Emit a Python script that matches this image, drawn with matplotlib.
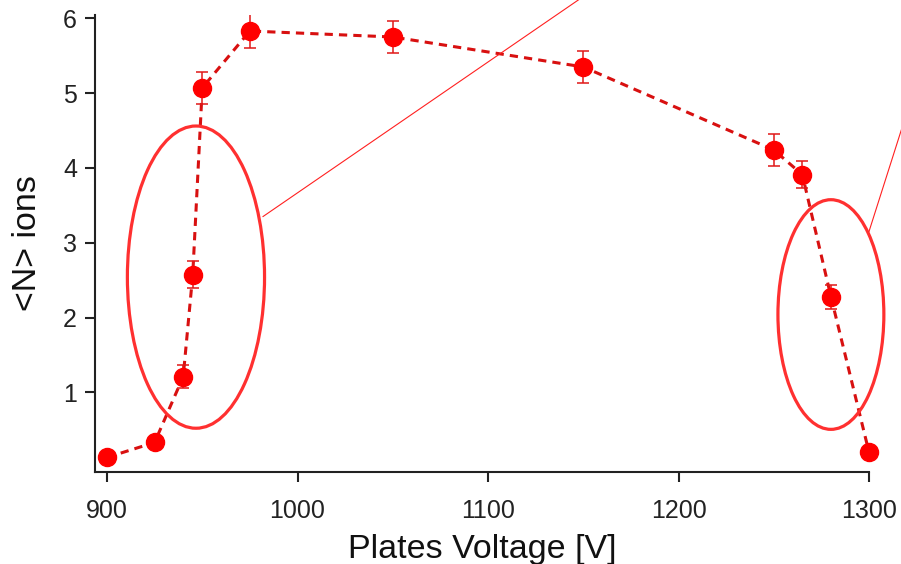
import matplotlib
matplotlib.use("Agg")
import matplotlib.pyplot as plt
from matplotlib.patches import Ellipse

plt.rcParams['font.family'] = ['Liberation Sans', 'DejaVu Sans']

# Data
voltage = [900, 925, 940, 945, 950, 975, 1050, 1150, 1250, 1265, 1280, 1300]
n_ions = [0.13, 0.33, 1.21, 2.57, 5.07, 5.83, 5.75, 5.35, 4.24, 3.91, 2.28, 0.20]
n_err = [0.05, 0.06, 0.15, 0.18, 0.21, 0.23, 0.22, 0.21, 0.21, 0.18, 0.16, 0.05]
x_ticks = [900, 1000, 1100, 1200, 1300]
y_ticks = [1, 2, 3, 4, 5, 6]

# Annotation shapes (data coordinates): center x, center y, width, height
ellipse_left = (946.7, 2.54, 72.0, 4.04)
ellipse_right = (1280.0, 2.04, 55.6, 3.07)
line_left = ([981.9, 1170.0], [3.35, 6.64])
line_right = ([1300.0, 1330.0], [3.15, 5.55])

W, H = 901, 564
fig = plt.figure(figsize=(W / 100, H / 100), dpi=100)
ax = fig.add_axes([95 / W, 1 - 472 / H, (869 - 95) / W, (472 - 15) / H])

ax.errorbar(voltage, n_ions, yerr=n_err, fmt='none', ecolor='#e01818',
            elinewidth=1.1, capsize=4.5, capthick=1.1, zorder=3)
ax.plot(voltage, n_ions, color='#d81010', lw=2.2, dashes=(2.7, 2.0), zorder=2)
ax.plot(voltage, n_ions, 'o', color='#ff0000', ms=13, mec='#ff0000', zorder=4,
        clip_on=False)

for (cx, cy, w, h) in (ellipse_left, ellipse_right):
    e = Ellipse((cx, cy), w, h, fill=False, edgecolor='#ff3030', lw=2.3,
                clip_on=False, zorder=5)
    ax.add_patch(e)

for (xs, ys) in (line_left, line_right):
    ax.plot(xs, ys, color='#ff2020', lw=0.8, clip_on=False, zorder=5)

ax.set_xlim(893.7, 1300)
ax.set_ylim(-0.065, 6.044)
ax.set_xticks(x_ticks)
ax.set_yticks(y_ticks)
ax.set_xticklabels([str(v) for v in x_ticks])
ax.set_yticklabels([str(v) for v in y_ticks])

for side in ('top', 'right'):
    ax.spines[side].set_visible(False)
for side in ('left', 'bottom'):
    ax.spines[side].set_linewidth(1.5)
    ax.spines[side].set_color('#222222')

ax.tick_params(axis='both', direction='out', length=7, width=1.5,
               color='#222222', labelsize=18, labelcolor='#222222')
ax.tick_params(axis='x', pad=12.5)
ax.tick_params(axis='y', pad=6)

ax.set_xlabel('Plates Voltage [V]', fontsize=24.5, color='#111111', labelpad=8)
ax.set_ylabel('<N> ions', fontsize=24.5, color='#111111', labelpad=14)

fig.savefig('out.png', dpi=100)
